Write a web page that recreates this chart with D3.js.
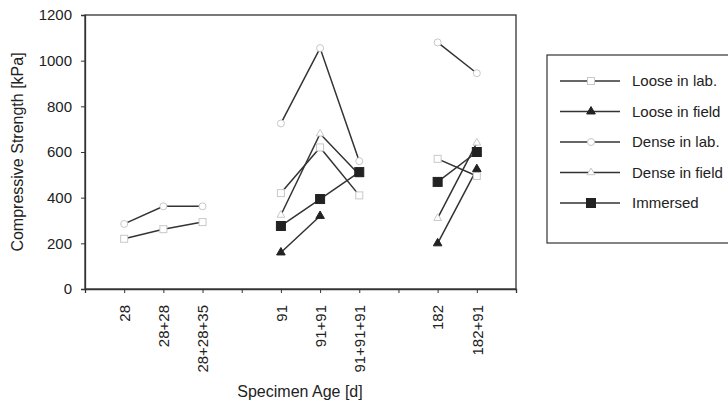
<!DOCTYPE html>
<html>
<head>
<meta charset="utf-8">
<script src="https://cdn.jsdelivr.net/npm/d3@7"></script>
<style>
body { margin: 0; background: #fff; }
text { font-family: "Liberation Sans", Arial, sans-serif; fill: #222; }
</style>
</head>
<body>
<svg width="728" height="404"></svg>
<script>
// x categories (blank slots separate the age groups)
var ages = ["", "28", "28+28", "28+28+35", "", "91", "91+91", "91+91+91", "", "182", "182+91", ""];

// compressive strength [kPa], null = no test
var looseLab    = [null, 220, 262, 293, null, 420, 620, 410, null, 570, 495, null];
var looseField  = [null, null, null, null, null, 160, 320, null, null, 200, 525, null];
var denseLab    = [null, 285, 362, 362, null, 725, 1055, 560, null, 1080, 945, null];
var denseField  = [null, null, null, null, null, 324, 680, 500, null, 310, 640, null];
var immersed    = [null, null, null, null, null, 276, 394, 512, null, 469, 600, null];

var yTicks = [0, 200, 400, 600, 800, 1000, 1200];

var series = [
  {name: "Loose in lab.", values: looseLab, shape: "square", filled: false},
  {name: "Loose in field", values: looseField, shape: "triangle", filled: true},
  {name: "Dense in lab.", values: denseLab, shape: "circle", filled: false},
  {name: "Dense in field", values: denseField, shape: "triangle", filled: false},
  {name: "Immersed", values: immersed, shape: "square", filled: true}
];

var svg = d3.select("svg"),
    x0 = 85, x1 = 516, y0 = 15, y1 = 289;

var x = d3.scalePoint().domain(d3.range(ages.length)).range([x0, x1]);
var y = d3.scaleLinear().domain([0, 1200]).range([y1, y0]);

// frame
svg.append("rect")
  .attr("x", x0).attr("y", y0)
  .attr("width", x1 - x0).attr("height", y1 - y0)
  .attr("fill", "none").attr("stroke", "#333").attr("stroke-width", 1.3);

// axes
var yAxis = svg.append("g")
  .attr("transform", "translate(" + x0 + ",0)")
  .call(d3.axisLeft(y).tickValues(yTicks).tickFormat(d3.format("d")).tickSize(4).tickPadding(9));
yAxis.selectAll("text").style("font-size", "15px");

var xAxis = svg.append("g")
  .attr("transform", "translate(0," + y1 + ")")
  .call(d3.axisBottom(x).tickSize(4).tickFormat(function(i) { return ages[i]; }));
xAxis.selectAll("text")
  .style("font-size", "15px")
  .attr("text-anchor", "end")
  .attr("transform", "rotate(-90)")
  .attr("x", -16).attr("y", 0).attr("dy", "0.35em");

svg.selectAll(".domain").attr("stroke", "#333").attr("stroke-width", 1.3);
svg.selectAll(".tick line").attr("stroke", "#333");

// titles
svg.append("text")
  .attr("transform", "translate(17," + ((y0 + y1) / 2) + ") rotate(-90)")
  .attr("text-anchor", "middle")
  .attr("dy", "0.35em")
  .style("font-size", "16px")
  .text("Compressive Strength [kPa]");

svg.append("text")
  .attr("x", 300).attr("y", 397)
  .attr("text-anchor", "middle")
  .style("font-size", "16px")
  .text("Specimen Age [d]");

// markers: hollow ones are faint in the source, filled ones dark
function drawMarker(g, s, cx, cy) {
  var fill = s.filled ? "#222" : "#fff",
      stroke = s.filled ? "#222" : "#c8c8c8";
  if (s.shape == "square") {
    var r = s.filled ? 4.5 : 3.5;
    g.append("rect").attr("x", cx - r).attr("y", cy - r)
      .attr("width", 2 * r).attr("height", 2 * r)
      .attr("fill", fill).attr("stroke", stroke);
  } else if (s.shape == "circle") {
    g.append("circle").attr("cx", cx).attr("cy", cy).attr("r", 3.5)
      .attr("fill", fill).attr("stroke", stroke);
  } else {
    g.append("path")
      .attr("d", d3.symbol(d3.symbolTriangle, s.filled ? 32 : 26)())
      .attr("transform", "translate(" + cx + "," + cy + ")")
      .attr("fill", fill).attr("stroke", stroke);
  }
}

var line = d3.line()
  .defined(function(d) { return d != null; })
  .x(function(d, i) { return x(i); })
  .y(function(d) { return y(d); });

var plot = svg.append("g");
series.forEach(function(s) {
  plot.append("path")
    .attr("d", line(s.values))
    .attr("fill", "none")
    .attr("stroke", "#333")
    .attr("stroke-width", 1.5);
});
series.forEach(function(s) {
  var g = plot.append("g");
  s.values.forEach(function(v, i) {
    if (v != null) drawMarker(g, s, x(i), y(v));
  });
});

// legend
var legend = svg.append("g");
legend.append("rect")
  .attr("x", 547).attr("y", 55)
  .attr("width", 200).attr("height", 188)
  .attr("fill", "#fff").attr("stroke", "#333").attr("stroke-width", 1.2);

series.forEach(function(s, i) {
  var ly = 81 + i * 30.5;
  var g = legend.append("g");
  g.append("line")
    .attr("x1", 560).attr("x2", 620).attr("y1", ly).attr("y2", ly)
    .attr("stroke", "#333").attr("stroke-width", 1.4);
  drawMarker(g, s, 591, ly);
  g.append("text")
    .attr("x", 632).attr("y", ly).attr("dy", "0.35em")
    .style("font-size", "15px")
    .text(s.name);
});
</script>
</body>
</html>
